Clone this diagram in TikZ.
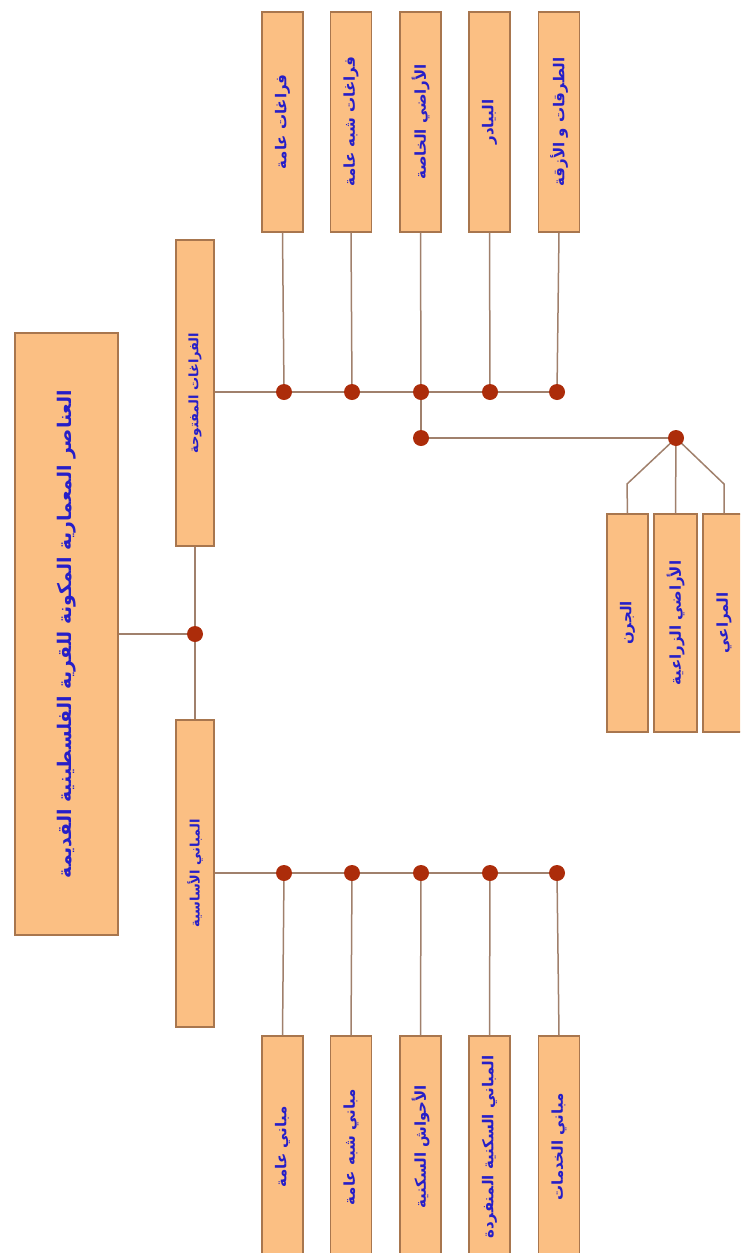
\documentclass[tikz,border=0pt]{standalone}
\usepackage{fontspec}
\newfontfamily\arabicfont[Script=Arabic]{DejaVu Sans}
\TeXXeTstate=1
\definecolor{boxfill}{RGB}{251,191,131}
\definecolor{boxdraw}{RGB}{168,118,78}
\definecolor{linec}{RGB}{160,128,108}
\definecolor{dotc}{RGB}{172,44,10}
\definecolor{txtc}{RGB}{38,30,200}
\newcommand{\artxt}[2][15pt]{\rotatebox{90}{\fontsize{#1}{#1}\arabicfont\bfseries\color{txtc}\beginR #2\endR}}
\begin{document}
\begin{tikzpicture}[x=1pt,y=-1pt,
  box/.style={draw=boxdraw,fill=boxfill,line width=1.2pt,inner sep=0pt,minimum width=41pt,minimum height=220pt},
  conn/.style={draw=linec,line width=1.5pt},
  jdot/.style={circle,fill=dotc,inner sep=0pt,minimum size=16pt}]
\useasboundingbox (0,0) rectangle (740,1253);
\clip (0,0) rectangle (740,1253);
% main
\node[box,minimum width=103pt,minimum height=602pt] (main) at (66.5,634) {\artxt[18.8pt]{العناصر المعمارية المكونة للقرية الفلسطينية القديمة}};
\node[box,minimum width=38pt,minimum height=306pt] (up) at (195,393) {\artxt[13pt]{الفراغات المفتوحة}};
\node[box,minimum width=38pt,minimum height=307pt] (lo) at (195,873.5) {\artxt[13pt]{المباني الأساسية}};
% top boxes
\node[box] (t1) at (282.5,122) {\artxt{فراغات عامة}};
\node[box] (t2) at (351,122) {\artxt{فراغات شبه عامة}};
\node[box] (t3) at (420.5,122) {\artxt{الأراضي الخاصة}};
\node[box] (t4) at (489.5,122) {\artxt{البيادر}};
\node[box] (t5) at (559,122) {\artxt{الطرقات و الأزقة}};
% bottom boxes
\node[box,minimum height=222pt] (b1) at (282.5,1147) {\artxt{مباني عامة}};
\node[box,minimum height=222pt] (b2) at (351,1147) {\artxt{مباني شبه عامة}};
\node[box,minimum height=222pt] (b3) at (420.5,1147) {\artxt{الأحواش السكنية}};
\node[box,minimum height=222pt] (b4) at (489.5,1147) {\artxt{المباني السكنية المنفردة}};
\node[box,minimum height=222pt] (b5) at (559,1147) {\artxt{مباني الخدمات}};
% right boxes
\node[box,minimum height=218pt] (r1) at (627.5,623) {\artxt{الجرن}};
\node[box,minimum width=43pt,minimum height=218pt] (r2) at (675.5,623) {\artxt{الأراضي الزراعية}};
\node[box,minimum width=42pt,minimum height=218pt] (r3) at (724,623) {\artxt{المراعي}};
% junction coordinates
\coordinate (mdot) at (195,634);
\coordinate (ut1) at (284,392);
\coordinate (ut2) at (352,392);
\coordinate (ut3) at (421,392);
\coordinate (ut4) at (490,392);
\coordinate (ut5) at (557,392);
\coordinate (lb1) at (284,873);
\coordinate (lb2) at (352,873);
\coordinate (lb3) at (421,873);
\coordinate (lb4) at (490,873);
\coordinate (lb5) at (557,873);
\coordinate (jd) at (421,438);
\coordinate (kd) at (676,438);
\coordinate (k1) at (627,484);
\coordinate (k3) at (724,484);
% connectors
\draw[conn] (main.east|-mdot) -- (mdot);
\draw[conn] (up.south) -- (lo.north);
\draw[conn] (up.east|-ut1) -- (ut5);
\draw[conn] (lo.east|-lb1) -- (lb5);
\foreach \i in {1,...,5}{
  \draw[conn] (t\i.south) -- (ut\i);
  \draw[conn] (b\i.north) -- (lb\i);
}
\draw[conn] (ut3) -- (jd) -- (kd);
\draw[conn] (kd) -- (k1) -- (r1.north);
\draw[conn] (kd) -- (r2.north);
\draw[conn] (kd) -- (k3) -- (r3.north);
% dots
\foreach \p in {mdot,ut1,ut2,ut3,ut4,ut5,lb1,lb2,lb3,lb4,lb5,jd,kd}{
  \node[jdot] at (\p) {};
}
\end{tikzpicture}
\end{document}
